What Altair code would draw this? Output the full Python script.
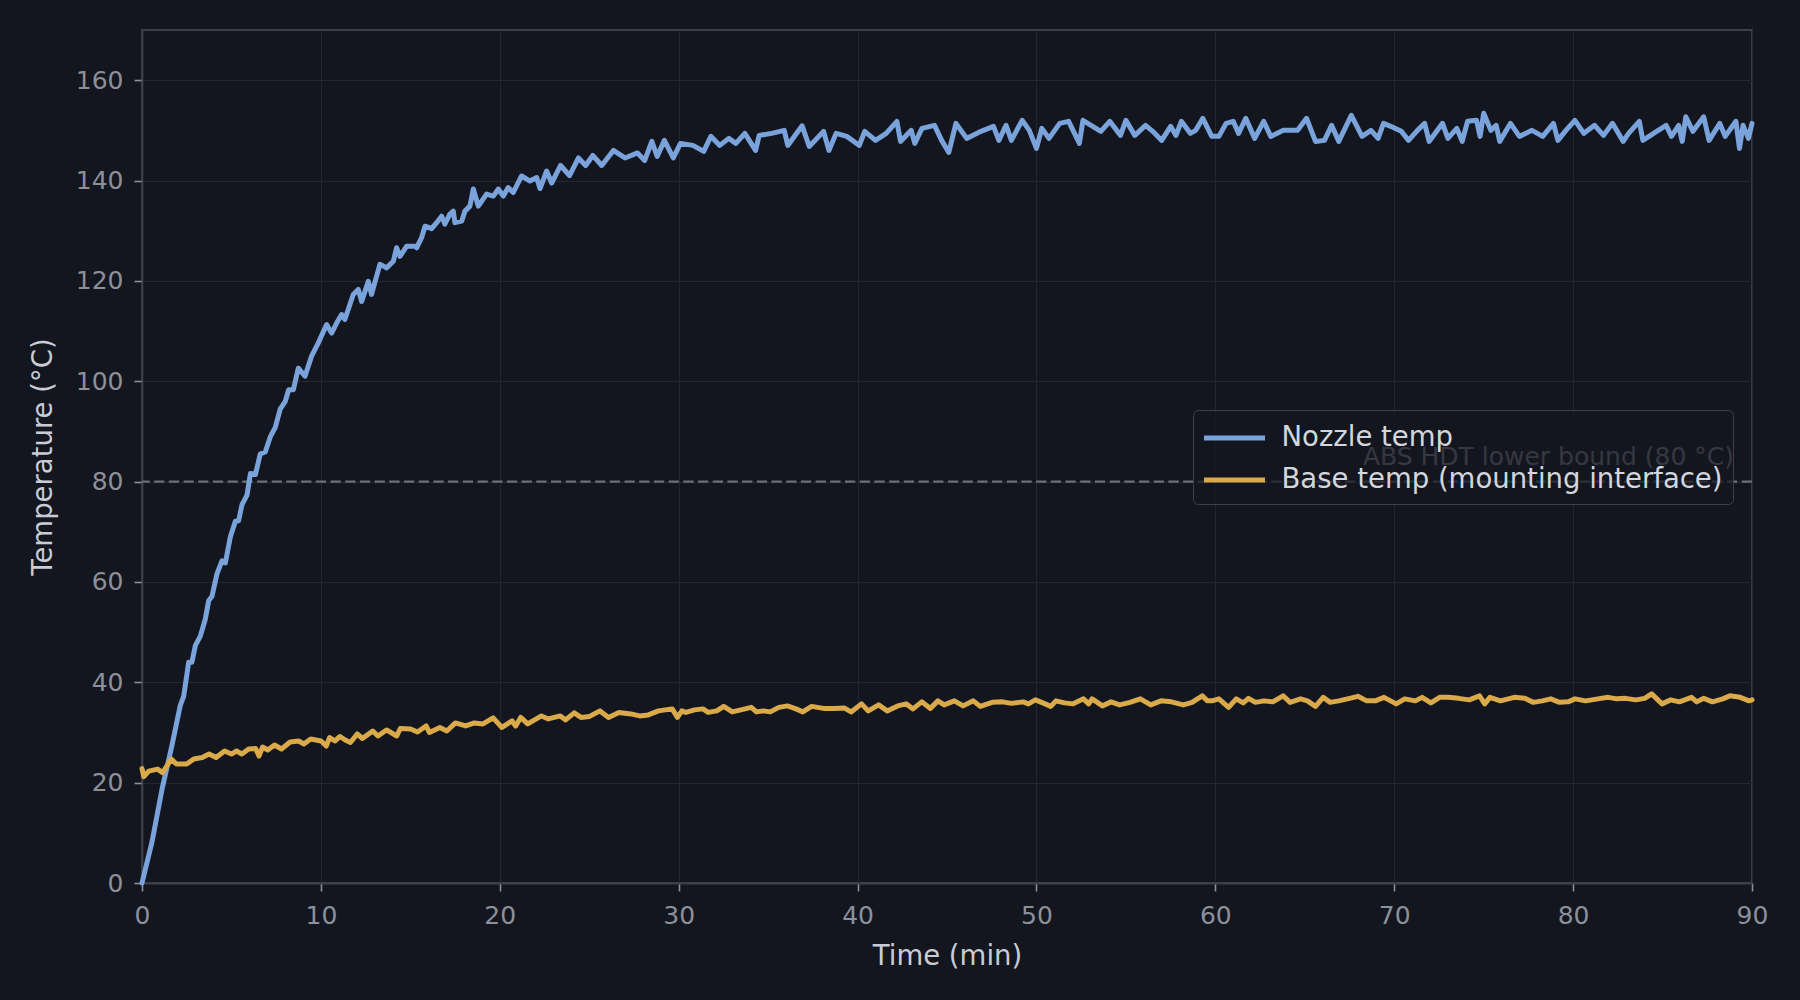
import altair as alt
import pandas as pd

# ---- data ----
nozzle_t = [0.0, 0.56, 1.12, 1.68, 2.14, 2.33, 2.61, 2.79, 2.98, 3.26, 3.54, 3.73, 3.91, 4.19, 4.47, 4.66,
            4.94, 5.22, 5.40, 5.59, 5.87, 6.06, 6.34, 6.61, 6.89, 7.17, 7.45, 7.73, 8.01, 8.20, 8.46, 8.74,
            9.11, 9.48, 9.85, 10.32, 10.60, 10.88, 11.16, 11.34, 11.81, 12.09, 12.28, 12.65, 12.83, 13.30,
            13.67, 14.05, 14.23, 14.42, 14.79, 15.26, 15.35, 15.63, 15.82, 16.19, 16.47, 16.75, 16.93, 17.21,
            17.40, 17.49, 17.87, 18.05, 18.33, 18.52, 18.80, 19.26, 19.64, 19.92, 20.20, 20.47, 20.75, 21.03,
            21.22, 21.69, 22.06, 22.25, 22.62, 22.9, 23.4, 23.9, 24.4, 24.8, 25.2, 25.7, 26.35, 27.0, 27.7,
            28.1, 28.5, 28.8, 29.2, 29.7, 30.1, 30.8, 31.4, 31.8, 32.3, 32.8, 33.2, 33.7, 34.3, 34.5, 35.2,
            35.9, 36.1, 36.9, 37.3, 38.1, 38.4, 38.8, 39.4, 40.1, 40.4, 41.0, 41.6, 42.2, 42.4, 43.0, 43.2,
            43.6, 44.3, 44.7, 45.1, 45.5, 46.1, 46.9, 47.6, 47.9, 48.3, 48.6, 49.2, 49.6, 50.0, 50.3, 50.7,
            51.3, 51.8, 52.4, 52.6, 53.6, 54.1, 54.7, 55.0, 55.5, 56.1, 56.5, 57.0, 57.5, 57.8, 58.1, 58.6,
            58.9, 59.3, 59.8, 60.2, 60.6, 61.0, 61.3, 61.7, 62.2, 62.7, 63.1, 63.8, 64.6, 65.1, 65.6, 66.1,
            66.5, 66.9, 67.6, 68.2, 68.7, 69.1, 69.4, 69.8, 70.4, 70.8, 71.3, 71.7, 71.95, 72.7, 73.0, 73.5,
            73.8, 74.1, 74.6, 74.8, 75.0, 75.4, 75.7, 75.9, 76.5, 77.0, 77.7, 78.3, 78.9, 79.15, 79.6, 80.1,
            80.6, 81.2, 81.7, 82.2, 82.8, 83.1, 83.7, 83.9, 84.5, 85.2, 85.5, 85.9, 86.1, 86.3, 86.7, 87.3,
            87.6, 88.2, 88.5, 89.1, 89.3, 89.5, 89.8, 90.0]
nozzle_v = [0.0, 8.2, 18.7, 27.5, 35.4, 37.2, 44.0, 44.0, 47.3, 49.2, 52.6, 56.3, 57.1, 61.6, 64.2, 63.8,
            69.0, 72.1, 72.2, 75.4, 77.3, 81.6, 81.4, 85.5, 85.9, 88.9, 90.8, 94.5, 96.0, 98.3, 98.3, 102.6,
            101.0, 105.0, 107.6, 111.3, 109.6, 111.6, 113.3, 112.3, 117.3, 118.3, 115.9, 119.9, 117.3, 123.3,
            122.6, 123.9, 126.6, 124.9, 126.9, 126.9, 126.6, 128.6, 130.9, 130.4, 131.6, 132.9, 131.3, 133.3,
            133.9, 131.6, 131.9, 133.9, 134.9, 138.3, 134.9, 137.3, 136.9, 138.3, 136.9, 138.6, 137.6, 139.6,
            140.9, 139.9, 140.6, 138.4, 141.9, 139.5, 143.0, 141.0, 144.5, 143.0, 145.0, 143.0, 146.0, 144.5, 145.5,
            144.0, 147.8, 144.8, 148.0, 144.5, 147.4, 147.0, 145.8, 148.8, 147.0, 148.4, 147.4, 149.4, 146.0, 149.0, 149.4,
            150.0, 147.0, 150.9, 146.8, 149.8, 146.0, 149.4, 148.8, 147.0, 149.8, 148.0, 149.4, 151.8, 147.8, 150.0, 147.4,
            150.4, 151.0, 148.0, 145.6, 151.4, 148.4, 149.8, 150.8, 148.0, 151.0, 148.0, 152.0, 150.0, 146.4, 150.4, 148.4,
            151.4, 151.8, 147.4, 152.0, 149.8, 151.8, 149.0, 152.0, 149.0, 151.0, 149.8, 148.0, 150.8, 149.0, 151.8, 149.4,
            150.0, 152.4, 148.8, 148.8, 151.4, 151.8, 149.4, 152.4, 148.4, 151.8, 148.8, 150.0, 150.0, 152.4, 147.8, 148.0,
            151.0, 147.8, 153.0, 148.8, 150.0, 148.4, 151.4, 150.8, 149.8, 148.0, 150.0, 151.4, 147.8, 151.4, 148.4, 150.4,
            147.8, 151.8, 152.0, 148.8, 153.4, 150.0, 151.0, 147.8, 151.4, 148.8, 150.0, 148.8, 151.4, 148.0, 150.0, 152.0,
            149.4, 151.0, 149.0, 151.4, 147.8, 149.4, 151.8, 148.0, 149.4, 151.0, 148.8, 151.0, 147.8, 152.7, 149.8, 152.7,
            148.0, 151.4, 148.8, 151.8, 146.4, 151.0, 148.4, 151.4]

base_t = [0.0, 0.1, 0.38, 0.87, 1.15, 1.64, 1.92, 2.50, 2.89, 3.37, 3.75, 4.14, 4.62, 5.00, 5.29, 5.58,
          5.97, 6.35, 6.54, 6.74, 7.03, 7.41, 7.80, 8.28, 8.76, 9.05, 9.43, 10.01, 10.30, 10.49, 10.78, 11.07,
          11.36, 11.65, 12.03, 12.32, 12.90, 13.19, 13.67, 14.24, 14.44, 15.01, 15.40, 15.88, 16.07, 16.65,
          17.04, 17.52, 18.09, 18.58, 19.06, 19.63, 20.12, 20.69, 20.89, 21.17, 21.56, 22.33, 22.71, 23.39,
          23.68, 24.16, 24.54, 25.02, 25.60, 26.08, 26.66, 27.33, 27.82, 28.30, 28.87, 29.64, 29.93, 30.18,
          30.40, 30.88, 31.36, 31.65, 32.13, 32.52, 33.00, 33.48, 34.06, 34.35, 34.73, 35.12, 35.60, 36.08,
          36.56, 36.94, 37.43, 38.10, 38.68, 39.25, 39.64, 40.22, 40.60, 41.18, 41.66, 42.24, 42.72, 43.10,
          43.59, 44.07, 44.49, 44.84, 45.41, 45.90, 46.47, 46.86, 47.53, 48.11, 48.59, 49.26, 49.55, 49.94,
          50.42, 50.80, 51.09, 51.57, 52.05, 52.63, 52.92, 53.11, 53.69, 54.17, 54.65, 55.23, 55.81, 56.39,
          56.96, 57.54, 58.21, 58.70, 59.27, 59.56, 59.81, 60.20, 60.74, 61.17, 61.56, 61.85, 62.24, 62.72,
          63.21, 63.79, 64.18, 64.76, 65.15, 65.60, 66.03, 66.42, 66.90, 67.39, 67.97, 68.46, 68.94, 69.43,
          70.11, 70.59, 71.18, 71.56, 72.05, 72.54, 73.02, 73.60, 74.19, 74.77, 75.06, 75.35, 75.94, 76.71,
          77.30, 77.78, 78.27, 78.75, 79.24, 79.72, 80.11, 80.70, 81.38, 81.96, 82.45, 82.93, 83.51, 84.00,
          84.39, 84.97, 85.46, 85.94, 86.62, 86.91, 87.30, 87.79, 88.37, 88.76, 89.34, 89.83, 90.0]
base_v = [22.8, 21.2, 22.3, 22.7, 22.0, 24.7, 23.7, 23.7, 24.7, 25.0, 25.7, 25.0, 26.3, 25.7, 26.3, 25.7,
          26.7, 26.8, 25.3, 27.1, 26.5, 27.5, 26.7, 28.1, 28.3, 27.7, 28.7, 28.3, 27.3, 29.0, 28.3, 29.2,
          28.5, 28.0, 29.7, 28.8, 30.3, 29.3, 30.5, 29.3, 30.8, 30.7, 30.1, 31.3, 30.0, 31.0,
          30.3, 31.9, 31.3, 31.9, 31.7, 32.9, 31.0, 32.3, 31.3, 33.0, 31.7, 33.3, 32.7, 33.3,
          32.5, 33.9, 33.0, 33.2, 34.3, 33.0, 34.0, 33.7, 33.3, 33.5, 34.3, 34.7, 33.0, 34.3,
          34.0, 34.5, 34.7, 34.0, 34.3, 35.2, 34.1, 34.5, 35.0, 34.1, 34.3, 34.1, 35.0, 35.3,
          34.7, 34.1, 35.2, 34.8, 34.8, 34.9, 34.1, 35.7, 34.3, 35.5, 34.3, 35.3, 35.7, 34.7,
          36.1, 34.8, 36.3, 35.5, 36.3, 35.3, 36.3, 35.2, 36.0, 36.1, 35.8, 36.1, 35.7, 36.5,
          35.8, 35.2, 36.3, 35.9, 35.7, 36.7, 35.7, 36.7, 35.3, 36.1, 35.5, 36.0, 36.7, 35.5,
          36.3, 36.1, 35.5, 36.0, 37.3, 36.3, 36.3, 36.7, 35.0, 36.7, 35.9, 36.8, 36.0, 36.3,
          36.1, 37.3, 36.0, 36.7, 36.3, 35.2, 37.0, 36.0, 36.3, 36.7, 37.2, 36.3, 36.3, 37.0,
          35.7, 36.7, 36.3, 37.0, 35.9, 37.0, 37.0, 36.8, 36.5, 37.3, 35.7, 37.0, 36.3, 37.0,
          36.8, 36.0, 36.3, 36.7, 36.0, 36.1, 36.7, 36.3, 36.7, 37.0, 36.7, 36.8, 36.5, 36.8,
          37.7, 35.7, 36.5, 36.1, 37.0, 36.1, 36.8, 36.1, 36.7, 37.3, 37.0, 36.3, 36.5]

series_names = ["Nozzle temp", "Base temp (mounting interface)"]
series_colors = ["#7aa3dc", "#d9a94a"]
x_ticks = [0, 10, 20, 30, 40, 50, 60, 70, 80, 90]
y_ticks = [0, 20, 40, 60, 80, 100, 120, 140, 160]
threshold = [80]
threshold_label = ["ABS HDT lower bound (80 °C)"]

df = pd.concat([
    pd.DataFrame({"t": nozzle_t, "v": nozzle_v, "series": series_names[0]}),
    pd.DataFrame({"t": base_t, "v": base_v, "series": series_names[1]}),
], ignore_index=True)

BG = "#13161e"
GRID = "#232730"
SPINE = "#3c404a"
TICKLAB = "#8c909b"
TITLE = "#c9ccd4"
FONT = "DejaVu Sans"

x_scale = alt.Scale(domain=[0, 90], nice=False, zero=False)
y_scale = alt.Scale(domain=[0, 170], nice=False)

x_axis = alt.Axis(values=x_ticks, title="Time (min)", grid=True, gridColor=GRID, gridWidth=1,
                  domainColor=SPINE, domainWidth=1.8, tickColor=TICKLAB, tickSize=8, tickWidth=1.6,
                  labelColor=TICKLAB, labelFontSize=25, labelFont=FONT, labelPadding=12,
                  labelFlush=False, labelOverlap=False,
                  titleColor=TITLE, titleFontSize=27.5, titleFont=FONT, titleFontWeight="normal",
                  titlePadding=14)
y_axis = alt.Axis(values=y_ticks, title="Temperature (°C)", grid=True, gridColor=GRID, gridWidth=1,
                  domainColor=SPINE, domainWidth=1.8, tickColor=TICKLAB, tickSize=8, tickWidth=1.6,
                  labelColor=TICKLAB, labelFontSize=25, labelFont=FONT, labelPadding=11,
                  labelFlush=False, labelOverlap=False,
                  titleColor=TITLE, titleFontSize=27.5, titleFont=FONT, titleFontWeight="normal",
                  titlePadding=18)

rule = alt.Chart(pd.DataFrame({"y": threshold})).mark_rule(
    color="#6b6f7a", strokeWidth=2.2, strokeDash=[10.3, 4.4]
).encode(y=alt.Y("y:Q", scale=y_scale, axis=y_axis))

label = alt.Chart(pd.DataFrame({"x": [90], "y": threshold, "txt": threshold_label})).mark_text(
    align="right", baseline="alphabetic", dx=-18, dy=-17, fontSize=25, font=FONT, color="#8c909b"
).encode(x=alt.X("x:Q", scale=x_scale, axis=x_axis), y=alt.Y("y:Q", scale=y_scale, axis=y_axis),
         text="txt:N")

lines = alt.Chart(df).mark_line(strokeWidth=5, strokeJoin="round", strokeCap="round").encode(
    x=alt.X("t:Q", scale=x_scale, axis=x_axis),
    y=alt.Y("v:Q", scale=y_scale, axis=y_axis),
    color=alt.Color("series:N", scale=alt.Scale(domain=series_names, range=series_colors),
                    legend=alt.Legend(title=None, orient="none", legendX=1051, legendY=380,
                                      symbolType="M-2,0H2", symbolSize=930, symbolStrokeWidth=5,
                                      symbolOffset=13.5,
                                      labelFontSize=27.5, labelFont=FONT, labelColor="#d3d6dd",
                                      labelLimit=0, labelOffset=29, rowPadding=10, padding=10,
                                      fillColor="rgba(19,22,30,0.72)", strokeColor=SPINE,
                                      cornerRadius=5)),
    detail="series:N",
)

chart = alt.layer(rule, label, lines).properties(
    width=1610, height=853,
    background=BG,
    padding={"left": 142, "top": 30, "right": 48, "bottom": 117},
    autosize=alt.AutoSizeParams(type="none"),
).configure_view(stroke=SPINE, strokeWidth=1.8, fill=BG)

chart.save("out.html", embed_options={"renderer": "svg", "actions": False})
